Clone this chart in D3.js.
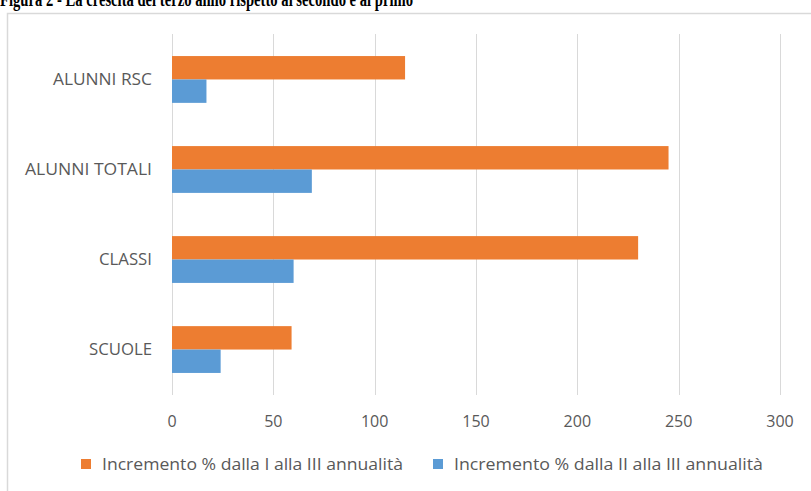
<!DOCTYPE html>
<html lang="it">
<head>
<meta charset="UTF-8" />
<title>Figura 2</title>
<script src="https://d3js.org/d3.v7.min.js"></script>
<style>
  body { margin: 0; background: #fff; }
  svg { display: block; }
</style>
</head>
<body>
<script>
  // data
  var categories = ["ALUNNI RSC", "ALUNNI TOTALI", "CLASSI", "SCUOLE"];
  var seriesNames = ["Incremento % dalla I alla III annualità", "Incremento % dalla II alla III annualità"];
  var incrementoI = [115, 245, 230, 59];
  var incrementoII = [17, 69, 60, 24];
  var xTicks = [0, 50, 100, 150, 200, 250, 300];
  var colors = ["#ED7D31", "#5B9BD5"];

  var w = 811, h = 491;
  var plotLeft = 172, plotRight = 780, plotTop = 34, plotBottom = 395;

  var svg = d3.select("body").append("svg")
    .attr("width", w)
    .attr("height", h);

  // title, cut off at the top of the page
  svg.append("text")
    .attr("x", 0)
    .attr("y", 6)
    .attr("font-family", "'Liberation Serif', 'Times New Roman', serif")
    .attr("font-weight", "bold")
    .attr("font-size", "20px")
    .attr("textLength", 413)
    .attr("lengthAdjust", "spacingAndGlyphs")
    .attr("fill", "#000")
    .text("Figura 2 - La crescita del terzo anno rispetto al secondo e al primo");

  // chart frame
  svg.append("rect")
    .attr("x", 7.5)
    .attr("y", 13.5)
    .attr("width", 900)
    .attr("height", 600)
    .attr("fill", "#fff")
    .attr("stroke", "#d9d9d9")
    .attr("stroke-width", 1.5);

  var x = d3.scaleLinear()
    .domain([0, 300])
    .range([plotLeft, plotRight]);

  var y = d3.scaleBand()
    .domain(categories)
    .range([plotTop, plotBottom])
    .paddingInner(0.48)
    .paddingOuter(0.245);

  var ySub = d3.scaleBand()
    .domain([0, 1])
    .range([0, y.bandwidth()]);

  // gridlines
  svg.append("g")
    .selectAll("line")
    .data(xTicks)
    .enter()
    .append("line")
    .attr("x1", function (d) { return Math.round(x(d)) + 0.5; })
    .attr("x2", function (d) { return Math.round(x(d)) + 0.5; })
    .attr("y1", plotTop)
    .attr("y2", plotBottom)
    .attr("stroke", "#d9d9d9")
    .attr("stroke-width", 1);

  var rows = categories.map(function (c, i) {
    return { cat: c, values: [incrementoI[i], incrementoII[i]] };
  });

  var groups = svg.append("g")
    .selectAll("g")
    .data(rows)
    .enter()
    .append("g")
    .attr("transform", function (d) { return "translate(0," + y(d.cat) + ")"; });

  groups.selectAll("rect")
    .data(function (d) { return d.values; })
    .enter()
    .append("rect")
    .attr("x", x(0))
    .attr("y", function (d, i) { return ySub(i); })
    .attr("width", function (d) { return x(d) - x(0); })
    .attr("height", ySub.bandwidth())
    .attr("fill", function (d, i) { return colors[i]; });

  var font = "'Open Sans', 'Noto Sans', sans-serif";

  // category labels (widths squeezed to the narrow font of the original)
  var catW = [99, 127, 53, 63];
  svg.append("g")
    .selectAll("text")
    .data(categories)
    .enter()
    .append("text")
    .attr("x", 152)
    .attr("y", function (d) { return y(d) + y.bandwidth() / 2; })
    .attr("dy", "0.35em")
    .attr("text-anchor", "end")
    .attr("font-family", font)
    .attr("font-size", "16px")
    .attr("textLength", function (d, i) { return catW[i]; })
    .attr("lengthAdjust", "spacingAndGlyphs")
    .attr("fill", "#595959")
    .text(function (d) { return d; });

  // x tick labels
  svg.append("g")
    .selectAll("text")
    .data(xTicks)
    .enter()
    .append("text")
    .attr("x", function (d) { return x(d); })
    .attr("y", 421)
    .attr("dy", "0.35em")
    .attr("text-anchor", "middle")
    .attr("font-family", font)
    .attr("font-size", "16px")
    .attr("fill", "#595959")
    .text(function (d) { return d; });

  // legend
  var legendX = [81, 433];
  var legendW = [301, 309];
  var legend = svg.append("g")
    .selectAll("g")
    .data(seriesNames)
    .enter()
    .append("g")
    .attr("transform", function (d, i) { return "translate(" + legendX[i] + ",459)"; });

  legend.append("rect")
    .attr("width", 10)
    .attr("height", 10)
    .attr("fill", function (d, i) { return colors[i]; });

  legend.append("text")
    .attr("x", 21)
    .attr("y", 5)
    .attr("dy", "0.35em")
    .attr("font-family", font)
    .attr("font-size", "17px")
    .attr("textLength", function (d, i) { return legendW[i]; })
    .attr("lengthAdjust", "spacingAndGlyphs")
    .attr("fill", "#595959")
    .text(function (d) { return d; });
</script>
</body>
</html>
